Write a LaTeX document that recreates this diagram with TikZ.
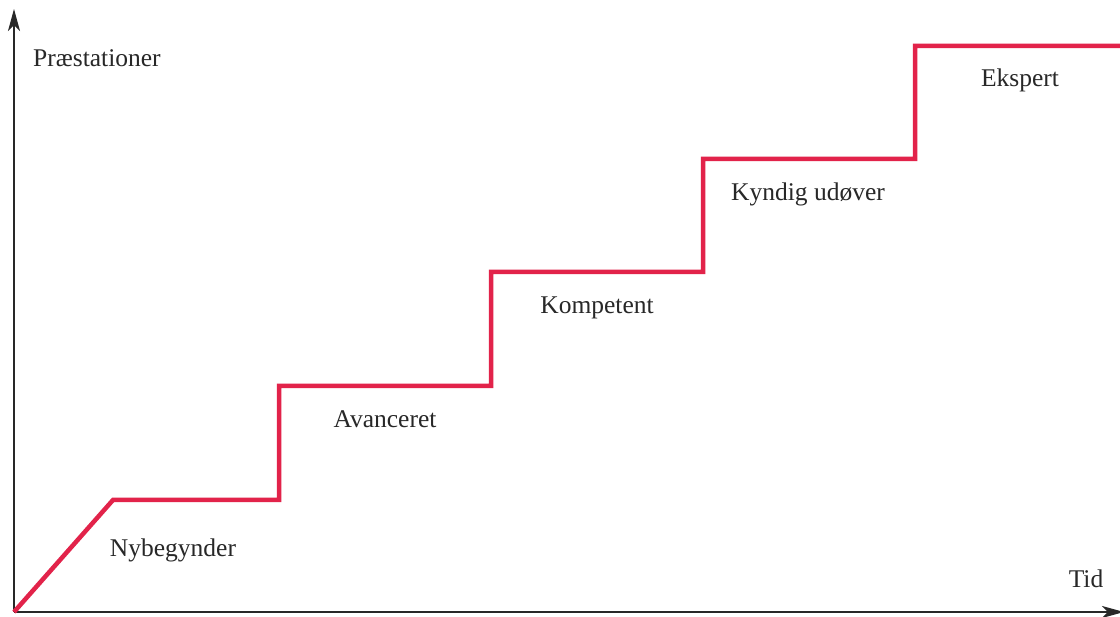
\documentclass[tikz,border=0pt]{standalone}
\usepackage{fontspec}
\setmainfont{Liberation Serif}
\usetikzlibrary{arrows.meta}
\definecolor{stepred}{RGB}{226,35,74}
\definecolor{axisgray}{RGB}{40,40,40}
\begin{document}
\begin{tikzpicture}[x=1pt,y=-1pt,
  axis/.style={draw=axisgray,line width=1.6pt,-{Stealth[length=22pt,width=12pt,inset=6pt]}},
  curve/.style={draw=stepred,line width=4.5pt,line join=miter},
  lbl/.style={anchor=base,inner sep=0pt,text=axisgray,font=\fontsize{25.5}{30}\selectfont}]
\useasboundingbox (0,0) rectangle (1120,617);
\fill[white] (0,0) rectangle (1120,617);
\coordinate (o) at (14,612);
\coordinate (ytip) at (14,9);
\coordinate (xtip) at (1124,612);
\draw[axis] (o) -- (ytip);
\draw[axis] (o) -- (xtip);
\coordinate (p1) at (113,500);
\coordinate (p2) at (279,500);
\coordinate (p3) at (279,386);
\coordinate (p4) at (491,386);
\coordinate (p5) at (491,272);
\coordinate (p6) at (703,272);
\coordinate (p7) at (703,159);
\coordinate (p8) at (915,159);
\coordinate (p9) at (915,46);
\coordinate (p10) at (1125,46);
\draw[curve] (o) -- (p1) -- (p2) -- (p3) -- (p4) -- (p5) -- (p6) -- (p7) -- (p8) -- (p9) -- (p10);
\node[lbl,anchor=base west] (ylab) at (33,67) {Præstationer};
\node[lbl] (xlab) at (1086,587) {Tid};
\node[lbl] (l1) at (173,557) {Nybegynder};
\node[lbl] (l2) at (385,428) {Avanceret};
\node[lbl] (l3) at (597,314) {Kompetent};
\node[lbl] (l4) at (808,201) {Kyndig udøver};
\node[lbl] (l5) at (1020,87) {Ekspert};
\end{tikzpicture}
\end{document}
